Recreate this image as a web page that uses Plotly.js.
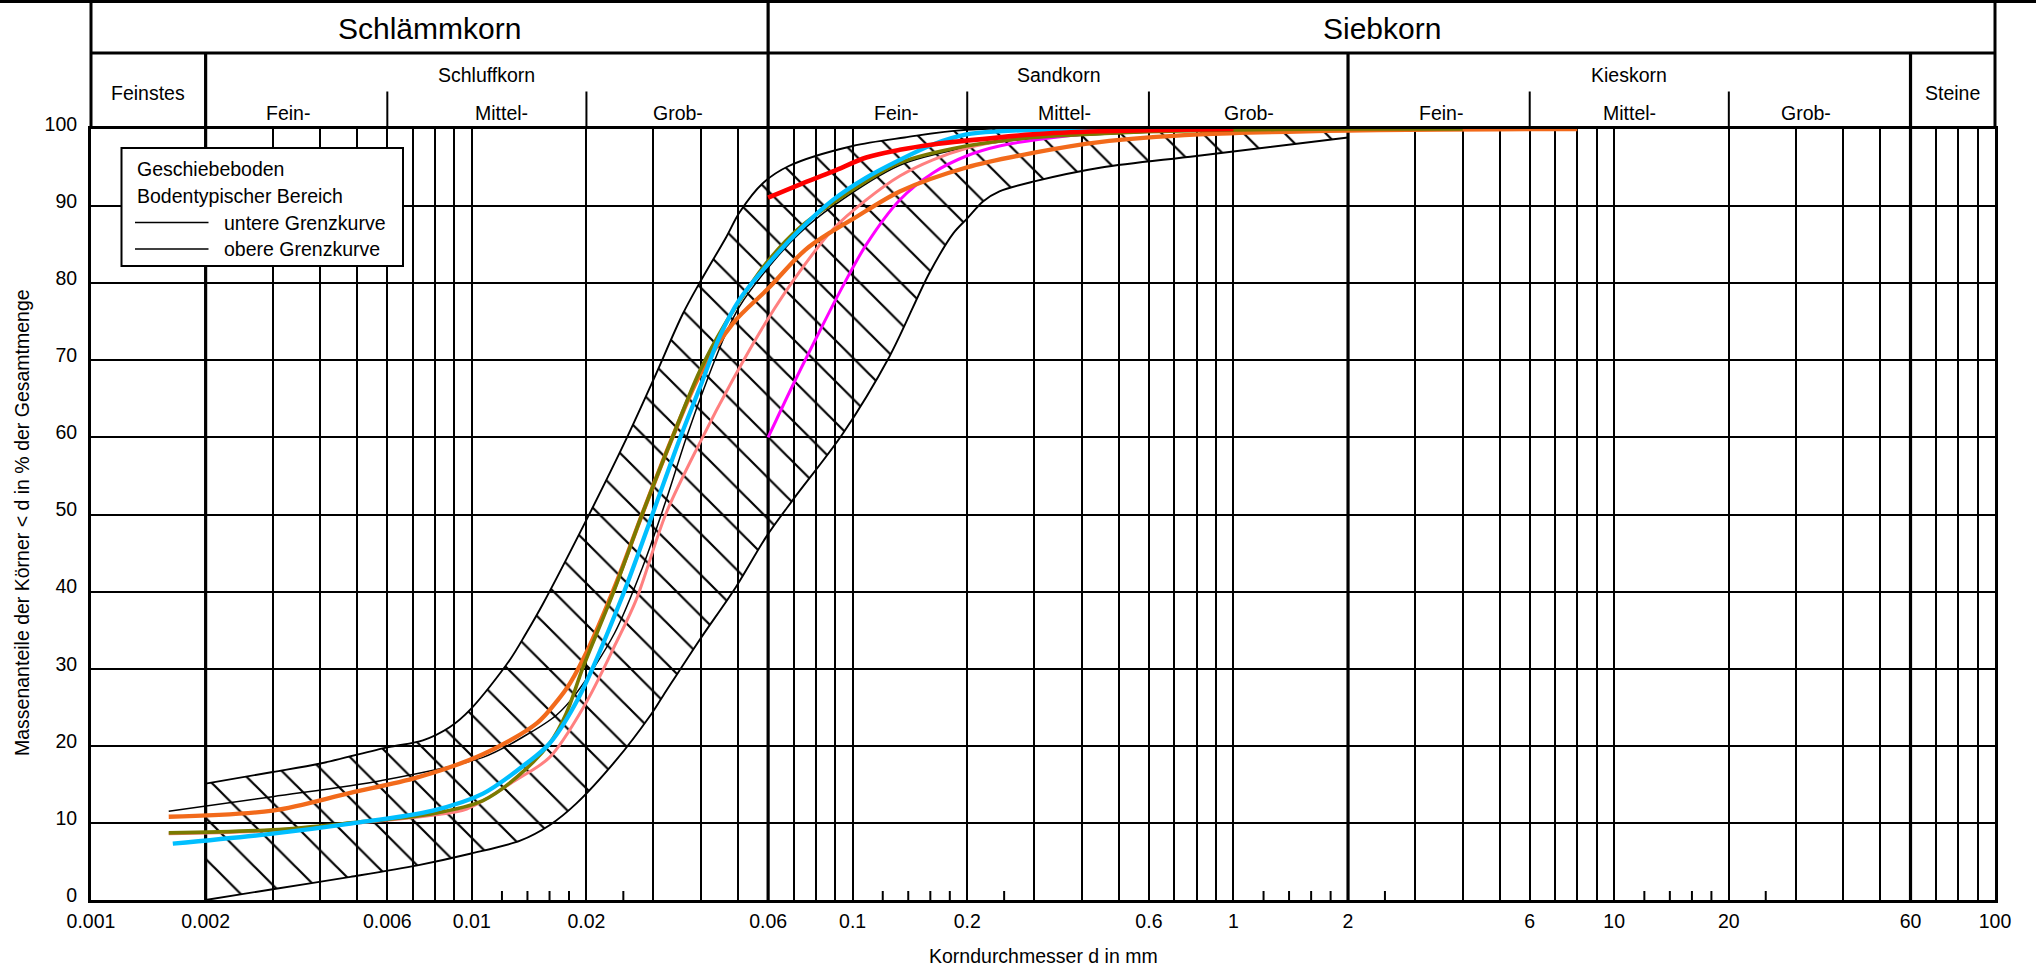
<!DOCTYPE html>
<html>
<head>
<meta charset="utf-8">
<script src="https://cdn.plot.ly/plotly-3.0.1.min.js"></script>
<style>
html,body{margin:0;padding:0;background:#fff;}
#chart{width:2036px;height:967px;}
</style>
</head>
<body>
<div id="chart"></div>
<script>
// ---------------- DATA ----------------
// band: upper (left) limit curve and lower (right) limit curve, d in mm, p in %
const upperD = [0.002, 0.003, 0.004, 0.006, 0.00744, 0.00874, 0.00995, 0.01257, 0.01389, 0.01537, 0.02, 0.0254, 0.03, 0.0358, 0.0396, 0.0466, 0.0505, 0.0582, 0.068, 0.1, 0.137, 0.2, 2];
const upperP = [15.1, 16.6, 17.7, 19.8, 20.7, 22.4, 24.8, 31.1, 34.6, 38.4, 49.3, 59.7, 67.5, 76.0, 80.0, 86.0, 89.2, 93.0, 95.2, 97.8, 98.9, 99.9, 100];
const lowerD = [0.002, 0.003, 0.0048, 0.0072, 0.0099, 0.0134, 0.016, 0.0188, 0.0239, 0.0293, 0.0318, 0.0396, 0.0494, 0.0593, 0.0697, 0.0943, 0.125, 0.159, 0.184, 0.2, 0.22, 0.243, 0.3, 0.45, 0.8, 2];
const lowerP = [0, 1.4, 3.0, 4.5, 6.0, 7.7, 9.7, 12.5, 18.1, 23.8, 26.5, 33.7, 40.6, 47.1, 51.9, 60.5, 70.5, 81.3, 86.5, 88.4, 90.6, 91.9, 93.2, 95.0, 96.5, 98.9];

// sample curves
const blackD = [0.0016, 0.003, 0.0058, 0.0107, 0.0139, 0.0167, 0.0188, 0.0237, 0.0281, 0.0324, 0.0366, 0.0419, 0.0466, 0.0505, 0.06, 0.0726, 0.0888, 0.133, 0.199, 0.2975, 0.445, 0.815, 2, 4];
const blackP = [11.5, 13.4, 15.5, 18.5, 21.4, 24.0, 26.8, 34.6, 43.2, 51.9, 60.0, 68.0, 73.6, 77.0, 82.0, 86.5, 90.0, 95.3, 97.6, 98.8, 99.3, 99.8, 100, 100];
const salmonD = [0.0016, 0.003, 0.0048, 0.0079, 0.0097, 0.0131, 0.016, 0.0198, 0.0239, 0.027, 0.0324, 0.0396, 0.0485, 0.0593, 0.0726, 0.0888, 0.1086, 0.133, 0.1625, 0.199, 0.243, 0.2975, 0.5, 0.8];
const salmonP = [8.6, 9.0, 9.9, 11.0, 11.8, 15.6, 18.5, 25.3, 33.3, 38.9, 50.2, 59.2, 67.5, 75.0, 81.5, 87.0, 90.8, 93.9, 96.0, 97.5, 98.4, 99.1, 99.8, 100];
const magentaD = [0.06, 0.0697, 0.082, 0.0906, 0.1086, 0.133, 0.1625, 0.199, 0.243, 0.364, 0.545, 0.7];
const magentaP = [60.0, 66.8, 73.8, 78.0, 85.0, 90.8, 94.3, 96.5, 97.8, 99.1, 99.8, 100];
const orangeD = [0.0016, 0.003, 0.0048, 0.0072, 0.0107, 0.0148, 0.0168, 0.0181, 0.0204, 0.0239, 0.0281, 0.0337, 0.0396, 0.0485, 0.06, 0.075, 0.0888, 0.1, 0.133, 0.199, 0.2975, 0.445, 0.815, 2, 8];
const orangeP = [10.8, 11.6, 13.9, 15.9, 18.9, 22.9, 25.9, 28.1, 33.0, 41.0, 50.2, 60.1, 68.0, 74.8, 79.3, 84.3, 86.8, 88.3, 91.9, 95.0, 96.9, 98.3, 99.3, 99.8, 100];
const oliveD = [0.0016, 0.003, 0.0048, 0.0079, 0.0107, 0.0131, 0.016, 0.0177, 0.0196, 0.0235, 0.0281, 0.0337, 0.0396, 0.0466, 0.0526, 0.0593, 0.0726, 0.0888, 0.133, 0.199, 0.2975, 0.445, 0.815, 2, 4];
const oliveP = [8.7, 9.1, 10.0, 11.2, 12.9, 15.9, 20.3, 24.2, 30.2, 39.8, 50.2, 60.1, 68.5, 75.0, 79.0, 82.6, 87.2, 90.4, 95.6, 97.8, 98.9, 99.4, 99.8, 100, 100];
const cyanD = [0.00164, 0.003, 0.0048, 0.0079, 0.0107, 0.0139, 0.016, 0.0192, 0.0249, 0.0299, 0.0351, 0.0396, 0.0447, 0.0505, 0.0593, 0.0726, 0.0888, 0.1086, 0.133, 0.1625, 0.199, 0.243, 0.4, 0.6];
const cyanP = [7.3, 8.6, 9.9, 11.6, 13.8, 17.7, 20.3, 26.5, 39.5, 50.2, 59.7, 66.3, 73.0, 77.9, 82.2, 86.9, 90.8, 93.7, 96.0, 98.0, 99.3, 99.7, 100, 100];
const redD = [0.06, 0.0726, 0.0888, 0.1086, 0.133, 0.1625, 0.2, 0.2975, 0.445, 1];
const redP = [91.1, 92.8, 94.5, 96.3, 97.3, 98.0, 98.5, 99.3, 99.7, 100];

// axis ticks / grid
const xLabelVals = [0.001, 0.002, 0.006, 0.01, 0.02, 0.06, 0.1, 0.2, 0.6, 1, 2, 6, 10, 20, 60, 100];
const xLabelText = ['0.001', '0.002', '0.006', '0.01', '0.02', '0.06', '0.1', '0.2', '0.6', '1', '2', '6', '10', '20', '60', '100'];
const xGridVals = [0.002, 0.003, 0.004, 0.005, 0.006, 0.007, 0.008, 0.009, 0.01,
  0.02, 0.03, 0.04, 0.05, 0.06, 0.07, 0.08, 0.09, 0.1,
  0.2, 0.3, 0.4, 0.5, 0.6, 0.7, 0.8, 0.9, 1,
  2, 3, 4, 5, 6, 7, 8, 9, 10,
  20, 30, 40, 50, 60, 70, 80, 90, 100];
const xMinorTicks = [0.012, 0.014, 0.016, 0.018, 0.025,
  0.12, 0.14, 0.16, 0.18, 0.25,
  1.2, 1.4, 1.6, 1.8, 2.5,
  12, 14, 16, 18, 25];
const yTickVals = [0, 10, 20, 30, 40, 50, 60, 70, 80, 90, 100];

// header classification
const groupNames = ['Schlämmkorn', 'Siebkorn'];
const groupRanges = [[0.001, 0.06], [0.06, 100]];
const classNames = ['Feinstes', 'Schluffkorn', 'Sandkorn', 'Kieskorn', 'Steine'];
const classRanges = [[0.001, 0.002], [0.002, 0.06], [0.06, 2], [2, 60], [60, 100]];
const classHasSub = [false, true, true, true, false];
const subNames = ['Fein-', 'Mittel-', 'Grob-', 'Fein-', 'Mittel-', 'Grob-', 'Fein-', 'Mittel-', 'Grob-'];
const subLabelAt = [0.0033, 0.012, 0.0347, 0.13, 0.36, 1.1, 3.5, 11, 31.8];
const subBounds = [0.006, 0.02, 0.2, 0.6, 6, 20];
const classBounds = [0.002, 2, 60];
const groupBound = [0.06];

// legend text
const legendTitle = ['Geschiebeboden', 'Bodentypischer Bereich'];
const legendItems = ['untere Grenzkurve', 'obere Grenzkurve'];

// ---------------- LAYOUT HELPERS ----------------
const W = 2036, H = 967;
const M = {l: 91, r: 41, t: 129, b: 67};
const plotW = W - M.l - M.r;
const plotH = H - M.t - M.b;
const px = x => (x - M.l) / plotW;       // pixel -> paper x
const py = y => (H - M.b - y) / plotH;   // pixel -> paper y
const FONT = 'Liberation Sans, Arial, Helvetica, sans-serif';
const lg = Math.log10;
const geo = r => (lg(r[0]) + lg(r[1])) / 2;

// ---------------- TRACES ----------------
function curve(x, y, color, width) {
  return {x: x, y: y, type: 'scatter', mode: 'lines',
    line: {color: color, width: width, shape: 'spline', smoothing: 0.9},
    hoverinfo: 'skip', showlegend: false};
}
const traces = [
  curve(lowerD, lowerP, '#000', 1.9),
  Object.assign(curve(upperD, upperP, '#000', 1.9), {
    fill: 'tonexty', fillcolor: 'rgba(0,0,0,0)',
    fillpattern: {shape: '\\', size: 29, solidity: 0.075, fgcolor: '#000', fgopacity: 1, bgcolor: 'rgba(0,0,0,0)', fillmode: 'overlay'}
  }),
  curve(blackD, blackP, '#000', 1.5),
  curve(salmonD, salmonP, '#ff8080', 3.0),
  curve(magentaD, magentaP, '#ff00ff', 3.0),
  curve(orangeD, orangeP, '#f26a1b', 4.3),
  curve(oliveD, oliveP, '#7a7a00', 3.6),
  curve(cyanD, cyanP, '#00bfff', 4.3),
  curve(redD, redP, '#ff0000', 4.6)
];

// ---------------- SHAPES ----------------
const shapes = [];
// top border across whole page
shapes.push({type: 'line', xref: 'paper', yref: 'paper', x0: -0.1, x1: 1.1, y0: py(1.5), y1: py(1.5), line: {color: '#000', width: 3}});
// header left/right borders
shapes.push({type: 'line', xref: 'paper', yref: 'paper', x0: 0, x1: 0, y0: 1, y1: py(0), line: {color: '#000', width: 3}});
shapes.push({type: 'line', xref: 'paper', yref: 'paper', x0: 1, x1: 1, y0: 1, y1: py(0), line: {color: '#000', width: 3}});
// row divider
shapes.push({type: 'line', xref: 'paper', yref: 'paper', x0: 0, x1: 1, y0: py(53), y1: py(53), line: {color: '#000', width: 3}});
// group boundary (full height)
groupBound.forEach(v => shapes.push({type: 'line', xref: 'x', yref: 'paper', x0: v, x1: v, y0: 0, y1: py(0), layer: 'below', line: {color: '#000', width: 3.2}}));
// class boundaries
classBounds.forEach(v => shapes.push({type: 'line', xref: 'x', yref: 'paper', x0: v, x1: v, y0: 0, y1: py(53), layer: 'below', line: {color: '#000', width: 3.2}}));
// sub boundaries in header
subBounds.forEach(v => shapes.push({type: 'line', xref: 'x', yref: 'paper', x0: v, x1: v, y0: 1, y1: py(91.5), line: {color: '#000', width: 2}}));
// minor ticks on x axis (inside)
xMinorTicks.forEach(v => shapes.push({type: 'line', xref: 'x', yref: 'paper', x0: v, x1: v, y0: 0, y1: 9 / plotH, layer: 'below', line: {color: '#000', width: 2}}));
// legend box
shapes.push({type: 'rect', xref: 'paper', yref: 'paper', x0: px(121.5), x1: px(403), y0: py(148), y1: py(266), fillcolor: '#fff', line: {color: '#000', width: 2}, layer: 'above'});
shapes.push({type: 'line', xref: 'paper', yref: 'paper', x0: px(135), x1: px(208.5), y0: py(222.5), y1: py(222.5), line: {color: '#000', width: 1.5}});
shapes.push({type: 'line', xref: 'paper', yref: 'paper', x0: px(135), x1: px(208.5), y0: py(249), y1: py(249), line: {color: '#000', width: 1.5}});

// ---------------- ANNOTATIONS ----------------
const ann = [];
const txt = (text, x, xref, y, size, extra) => Object.assign({
  text: text, x: x, xref: xref, y: y, yref: 'paper', showarrow: false,
  xanchor: 'center', yanchor: 'middle', font: {family: FONT, size: size, color: '#000'}
}, extra || {});
groupNames.forEach((n, i) => ann.push(txt(n, geo(groupRanges[i]), 'x', py(28), 30)));
classNames.forEach((n, i) => ann.push(txt(n, geo(classRanges[i]), 'x', py(classHasSub[i] ? 75 : 93.5), 19.5)));
subNames.forEach((n, i) => ann.push(txt(n, lg(subLabelAt[i]), 'x', py(112.5), 19.5)));
// legend texts
ann.push(txt(legendTitle[0], px(135), 'paper', py(169), 19.5, {xanchor: 'left'}));
ann.push(txt(legendTitle[1], px(135), 'paper', py(195.5), 19.5, {xanchor: 'left'}));
ann.push(txt(legendItems[0], px(222), 'paper', py(222.5), 19.5, {xanchor: 'left'}));
ann.push(txt(legendItems[1], px(222), 'paper', py(249), 19.5, {xanchor: 'left'}));
// axis titles
ann.push(txt('Korndurchmesser d in mm', px(1043), 'paper', py(956), 19.5));
ann.push(txt('Massenanteile der Körner &lt; d in % der Gesamtmenge', px(22), 'paper', py(523), 19.5, {textangle: -90}));

// ---------------- AXES ----------------
const xTickVals = [xLabelVals[0]].concat(xGridVals);
const xTickText = xTickVals.map(v => { const k = xLabelVals.indexOf(v); return k >= 0 ? xLabelText[k] : ''; });

const layout = {
  width: W, height: H,
  margin: M,
  paper_bgcolor: '#fff', plot_bgcolor: '#fff',
  showlegend: false,
  font: {family: FONT, size: 19.5, color: '#000'},
  xaxis: {
    type: 'log', range: [-3, 2], autorange: false,
    tickmode: 'array', tickvals: xTickVals, ticktext: xTickText,
    showgrid: true, gridcolor: '#000', gridwidth: 2,
    ticks: '', ticklabelstandoff: 2,
    showline: true, mirror: true, linecolor: '#000', linewidth: 3,
    zeroline: false, fixedrange: true,
    tickfont: {family: FONT, size: 19.5, color: '#000'}
  },
  yaxis: {
    range: [0, 100], autorange: false,
    tickmode: 'array', tickvals: yTickVals,
    showgrid: true, gridcolor: '#000', gridwidth: 2,
    ticks: '', ticklabelstandoff: 7, ticklabelshift: -5,
    showline: true, mirror: true, linecolor: '#000', linewidth: 3,
    zeroline: false, fixedrange: true,
    tickfont: {family: FONT, size: 19.5, color: '#000'}
  },
  shapes: shapes,
  annotations: ann
};

Plotly.newPlot('chart', traces, layout, {displayModeBar: false, staticPlot: true});
</script>
</body>
</html>
